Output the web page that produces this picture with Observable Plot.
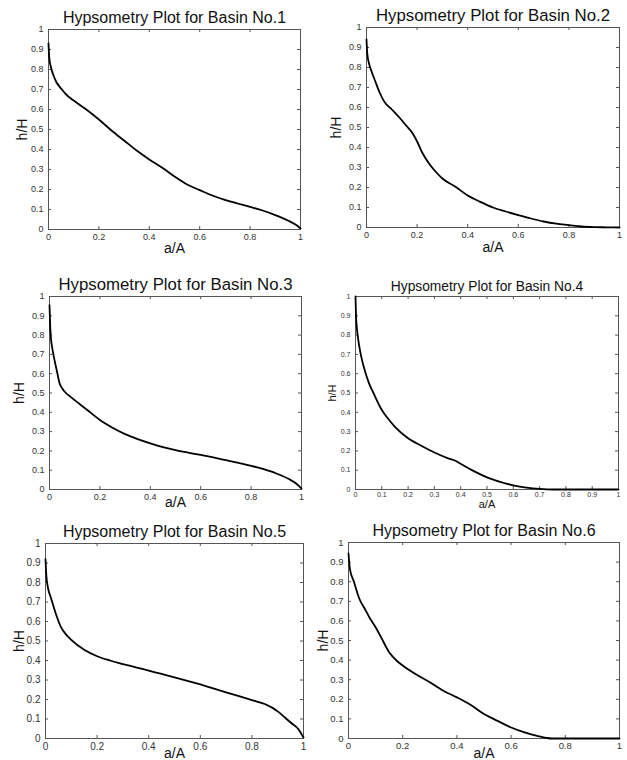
<!DOCTYPE html>
<html>
<head>
<meta charset="utf-8">
<script src="https://cdn.jsdelivr.net/npm/d3@7"></script>
<script src="https://cdn.jsdelivr.net/npm/@observablehq/plot@0.6"></script>
<style>
  body { margin: 0; background: #fff; }
  #root { position: relative; width: 627px; height: 760px; background: #fff; overflow: hidden; }
  #root > div { position: absolute; }
  svg { overflow: visible; }
</style>
</head>
<body>
<div id="root"></div>
<script>
// ---- data ----
const titles = [
  "Hypsometry Plot for Basin No.1",
  "Hypsometry Plot for Basin No.2",
  "Hypsometry Plot for Basin No.3",
  "Hypsometry Plot for Basin No.4",
  "Hypsometry Plot for Basin No.5",
  "Hypsometry Plot for Basin No.6"
];
const xLabel = "a/A";
const yLabel = "h/H";
const xTicksCoarse = [0, 0.2, 0.4, 0.6, 0.8, 1];
const xTicksFine = [0, 0.1, 0.2, 0.3, 0.4, 0.5, 0.6, 0.7, 0.8, 0.9, 1];
const yTicks = [0, 0.1, 0.2, 0.3, 0.4, 0.5, 0.6, 0.7, 0.8, 0.9, 1];

const basin1A = [0, 0.003, 0.01, 0.02, 0.03, 0.05, 0.07, 0.1, 0.15, 0.2, 0.25, 0.3, 0.35, 0.4, 0.45, 0.5, 0.55, 0.6, 0.65, 0.7, 0.75, 0.8, 0.85, 0.9, 0.95, 0.98, 1];
const basin1H = [0.93, 0.86, 0.81, 0.77, 0.74, 0.705, 0.675, 0.645, 0.6, 0.55, 0.495, 0.445, 0.395, 0.35, 0.31, 0.265, 0.225, 0.197, 0.17, 0.148, 0.13, 0.113, 0.095, 0.072, 0.045, 0.025, 0.005];

const basin2A = [0, 0.003, 0.01, 0.02, 0.035, 0.05, 0.07, 0.1, 0.13, 0.16, 0.18, 0.2, 0.22, 0.25, 0.28, 0.3, 0.35, 0.4, 0.45, 0.5, 0.55, 0.6, 0.65, 0.7, 0.75, 0.8, 0.85, 0.9, 0.95, 1];
const basin2H = [0.94, 0.87, 0.82, 0.78, 0.73, 0.68, 0.63, 0.59, 0.55, 0.505, 0.475, 0.43, 0.375, 0.315, 0.27, 0.245, 0.205, 0.16, 0.128, 0.1, 0.08, 0.062, 0.045, 0.03, 0.019, 0.012, 0.005, 0.002, 0.001, 0];

const basin3A = [0, 0.003, 0.006, 0.01, 0.02, 0.03, 0.04, 0.05, 0.065, 0.08, 0.1, 0.15, 0.2, 0.25, 0.3, 0.35, 0.4, 0.45, 0.5, 0.55, 0.6, 0.65, 0.7, 0.75, 0.8, 0.85, 0.9, 0.95, 0.98, 1];
const basin3H = [0.955, 0.84, 0.78, 0.74, 0.67, 0.61, 0.55, 0.525, 0.5, 0.484, 0.463, 0.412, 0.36, 0.32, 0.287, 0.261, 0.239, 0.22, 0.204, 0.191, 0.179, 0.166, 0.152, 0.138, 0.123, 0.105, 0.083, 0.054, 0.03, 0.005];

const basin4A = [0, 0.002, 0.005, 0.01, 0.02, 0.03, 0.05, 0.07, 0.1, 0.125, 0.15, 0.2, 0.25, 0.3, 0.35, 0.38, 0.4, 0.45, 0.5, 0.55, 0.6, 0.65, 0.7, 0.75, 0.8, 0.9, 1];
const basin4H = [1.0, 0.9, 0.84, 0.78, 0.7, 0.642, 0.555, 0.495, 0.412, 0.365, 0.325, 0.266, 0.227, 0.192, 0.163, 0.149, 0.133, 0.095, 0.063, 0.04, 0.022, 0.01, 0.003, 0, 0, 0, 0];

const basin5A = [0, 0.003, 0.01, 0.02, 0.04, 0.06, 0.08, 0.1, 0.15, 0.2, 0.25, 0.3, 0.35, 0.4, 0.45, 0.5, 0.55, 0.6, 0.65, 0.7, 0.75, 0.8, 0.85, 0.88, 0.9, 0.93, 0.95, 0.98, 1];
const basin5H = [0.92, 0.84, 0.77, 0.726, 0.64, 0.571, 0.533, 0.506, 0.455, 0.422, 0.4, 0.382, 0.365, 0.348, 0.331, 0.314, 0.296, 0.277, 0.257, 0.237, 0.217, 0.197, 0.177, 0.157, 0.139, 0.105, 0.082, 0.048, 0.005];

const basin6A = [0, 0.005, 0.02, 0.04, 0.06, 0.08, 0.1, 0.12, 0.15, 0.18, 0.2, 0.25, 0.3, 0.35, 0.4, 0.45, 0.5, 0.55, 0.6, 0.65, 0.7, 0.73, 0.75, 0.8, 0.9, 1];
const basin6H = [0.944, 0.867, 0.8, 0.713, 0.662, 0.611, 0.568, 0.517, 0.44, 0.394, 0.372, 0.326, 0.287, 0.244, 0.21, 0.172, 0.125, 0.09, 0.056, 0.031, 0.012, 0.003, 0, 0, 0, 0];

// ---- layout (positions/styles) ----
const layout = [
  {a: basin1A, h: basin1H, xt: xTicksCoarse, left: 0,   top: 0,   w: 313, h2: 250, mt: 29, mr: 13, mb: 21, ml: 48, tfs: 16,   tdy: -6.5, fs: 9,   tp: 4, lfs: 14, xdy: 23,   ydx: -26},
  {a: basin2A, h: basin2H, xt: xTicksCoarse, left: 313, top: 0,   w: 314, h2: 250, mt: 27, mr: 8,  mb: 23, ml: 53, tfs: 16.8, tdy: -6.5, fs: 9,   tp: 4, lfs: 14, xdy: 24.5, ydx: -30},
  {a: basin3A, h: basin3H, xt: xTicksCoarse, left: 0,   top: 250, w: 313, h2: 260, mt: 46, mr: 12, mb: 21, ml: 49, tfs: 16.8, tdy: -6.5, fs: 9,   tp: 4, lfs: 14, xdy: 17,   ydx: -30},
  {a: basin4A, h: basin4H, xt: xTicksFine,   left: 313, top: 250, w: 314, h2: 260, mt: 46, mr: 9,  mb: 21, ml: 42, tfs: 13.8, tdy: -6,   fs: 7,   tp: 3, lfs: 11, xdy: 18.5, ydx: -23},
  {a: basin5A, h: basin5H, xt: xTicksCoarse, left: 0,   top: 510, w: 313, h2: 250, mt: 33, mr: 10, mb: 22, ml: 45, tfs: 16,   tdy: -6.3, fs: 10,  tp: 4, lfs: 14, xdy: 19.5, ydx: -26},
  {a: basin6A, h: basin6H, xt: xTicksCoarse, left: 313, top: 510, w: 314, h2: 250, mt: 32, mr: 8,  mb: 22, ml: 35, tfs: 16,   tdy: -6.3, fs: 9.5, tp: 4, lfs: 14, xdy: 19.5, ydx: -24.5}
];

const root = document.getElementById("root");
const font = "'Liberation Sans', Arial, Helvetica, sans-serif";
const tickLen = 3;
const frameColor = "#555";

layout.forEach((p, i) => {
  const data = p.a.map((x, k) => ({a: x, h: p.h[k]}));
  const iw = p.w - p.ml - p.mr;
  const ih = p.h2 - p.mt - p.mb;
  const fmt = d => String(d);
  const chart = Plot.plot({
    width: p.w,
    height: p.h2,
    marginTop: p.mt, marginRight: p.mr, marginBottom: p.mb, marginLeft: p.ml,
    style: {fontFamily: font, fontSize: p.fs + "px", color: "#333", background: "transparent", overflow: "visible"},
    x: {domain: [0, 1], ticks: p.xt, tickSize: 0, tickPadding: p.tp, tickFormat: fmt, label: null},
    y: {domain: [0, 1], ticks: yTicks, tickSize: 0, tickPadding: 5, tickFormat: fmt, label: null},
    marks: [
      Plot.frame({stroke: frameColor, strokeWidth: 1}),
      // inward ticks on all four sides
      Plot.tickX(p.xt, {x: d => d, insetTop: ih - tickLen, stroke: frameColor}),
      Plot.tickX(p.xt, {x: d => d, insetBottom: ih - tickLen, stroke: frameColor}),
      Plot.tickY(yTicks, {y: d => d, insetRight: iw - tickLen, stroke: frameColor}),
      Plot.tickY(yTicks, {y: d => d, insetLeft: iw - tickLen, stroke: frameColor}),
      Plot.line(data, {x: "a", y: "h", stroke: "#000", strokeWidth: 1.8, curve: "monotone-x"}),
      Plot.text([titles[i]], {text: d => d, frameAnchor: "top", dy: p.tdy, lineAnchor: "bottom", fontSize: p.tfs, fill: "#111", fontFamily: font}),
      Plot.text([xLabel], {text: d => d, frameAnchor: "bottom", dy: p.xdy, lineAnchor: "bottom", fontSize: p.lfs, fill: "#111", fontFamily: font}),
      Plot.text([yLabel], {text: d => d, frameAnchor: "left", dx: p.ydx, rotate: -90, lineAnchor: "middle", textAnchor: "middle", fontSize: p.lfs, fill: "#111", fontFamily: font})
    ]
  });
  const holder = document.createElement("div");
  holder.style.left = p.left + "px";
  holder.style.top = p.top + "px";
  holder.style.width = p.w + "px";
  holder.style.height = p.h2 + "px";
  holder.appendChild(chart);
  root.appendChild(holder);
});
</script>
</body>
</html>
